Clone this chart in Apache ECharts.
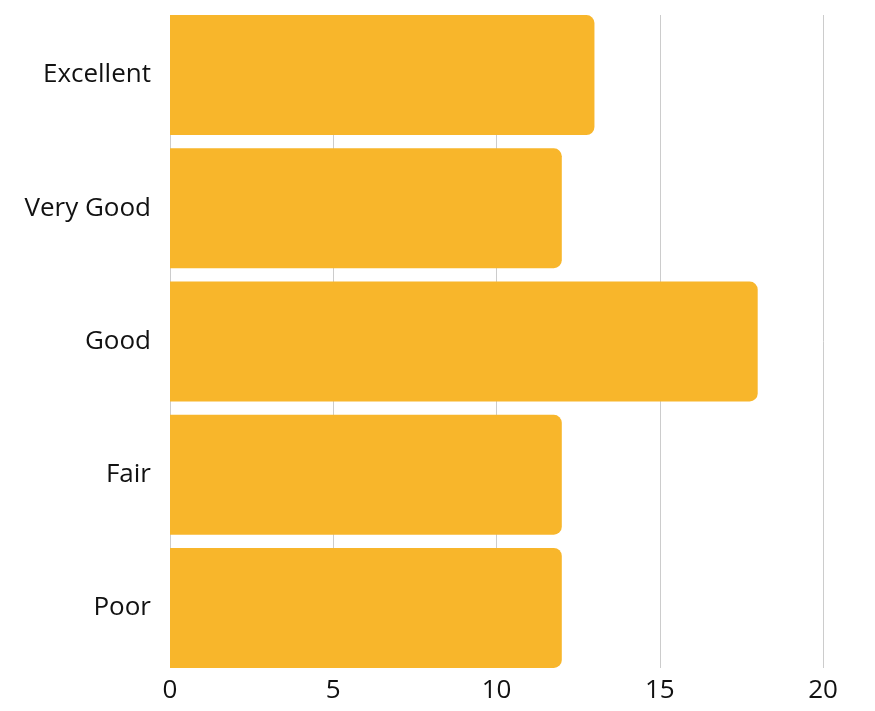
<!DOCTYPE html>
<html>
<head>
<meta charset="utf-8">
<script src="https://cdn.jsdelivr.net/npm/echarts@6/dist/echarts.min.js"></script>
<style>
  html, body { margin: 0; padding: 0; background: #ffffff; }
  #chart { width: 875px; height: 711px; }
</style>
</head>
<body>
<div id="chart"></div>
<script>
// Ratings and how many responses fell into each
const categories = ['Excellent', 'Very Good', 'Good', 'Fair', 'Poor'];
const counts = [13, 12, 18, 12, 12];
const xTicks = [0, 5, 10, 15, 20];

const FONT = '"Open Sans", "Noto Sans", sans-serif';
const TEXT = '#111111';

const chart = echarts.init(document.getElementById('chart'), null, { renderer: 'canvas' });

chart.setOption({
  backgroundColor: '#ffffff',
  animation: false,
  // grid 0 carries the value axis and its gridlines; grid 1 holds the bars
  grid: [
    { left: 170, right: 52, top: 15, bottom: 43, containLabel: false },
    { left: 170, right: 52, top: 8.4, bottom: 36.4, containLabel: false }
  ],
  xAxis: [
    {
      gridIndex: 0,
      type: 'value',
      min: xTicks[0],
      max: xTicks[xTicks.length - 1],
      interval: xTicks[1] - xTicks[0],
      axisLine: { show: false },
      axisTick: { show: false },
      axisLabel: { color: TEXT, fontFamily: FONT, fontSize: 26, margin: 10 },
      splitLine: { show: true, lineStyle: { color: '#cccccc', width: 1 } }
    },
    {
      gridIndex: 1,
      type: 'value',
      min: xTicks[0],
      max: xTicks[xTicks.length - 1],
      show: false
    }
  ],
  yAxis: [
    {
      gridIndex: 0,
      type: 'category',
      data: categories,
      inverse: true,
      show: false
    },
    {
      gridIndex: 1,
      type: 'category',
      data: categories,
      inverse: true,
      axisLine: { show: false },
      axisTick: { show: false },
      splitLine: { show: false },
      axisLabel: { color: TEXT, fontFamily: FONT, fontSize: 26, margin: 19 }
    }
  ],
  series: [
    {
      type: 'bar',
      xAxisIndex: 1,
      yAxisIndex: 1,
      data: counts,
      barCategoryGap: '10%',
      itemStyle: { color: '#f8b62b', borderRadius: [0, 8, 8, 0] }
    }
  ]
});
</script>
</body>
</html>
